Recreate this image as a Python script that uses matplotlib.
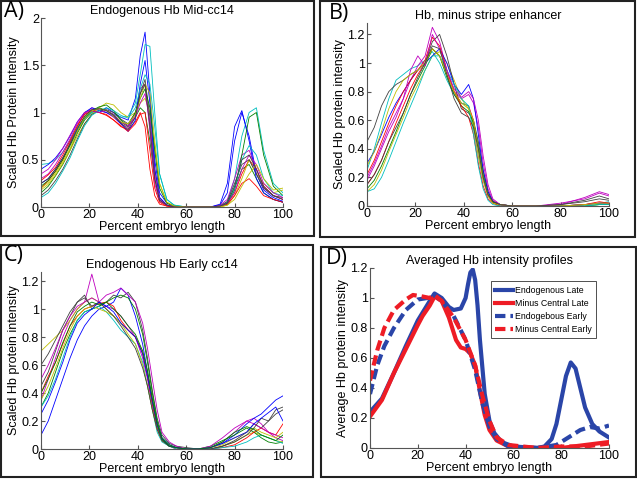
import numpy as np
import matplotlib
matplotlib.use('Agg')
import matplotlib.pyplot as plt
from matplotlib.patches import Rectangle
from matplotlib import font_manager

#fail loudly if the Arial-like font is missing
font_manager.findfont('Liberation Sans', fallback_to_default=False)
plt.rcParams['font.family'] = 'sans-serif'
plt.rcParams['font.sans-serif'] = ['Liberation Sans']

#MATLAB default line colours (cycled)
colors = [(0, 0, 1), (0, 0.5, 0), (1, 0, 0), (0, 0.75, 0.75),
          (0.75, 0, 0.75), (0.75, 0.75, 0), (0.25, 0.25, 0.25)]

#Panel A - endogenous Hb mid cc14
xa = [0, 3, 6, 9, 12, 15, 18, 21, 24, 27, 30, 33, 36, 39, 41, 43, 45, 47, 49, 52, 55, 60, 65, 70, 74, 77, 80, 83, 86, 89, 92, 96, 100]
a_lines = [
    [0.25, 0.30, 0.40, 0.52, 0.66, 0.82, 0.95, 1.02, 1.00, 1.05, 1.00, 0.95, 0.92, 1.15, 1.60, 1.85, 1.20, 0.50, 0.15, 0.04, 0.01, 0, 0, 0, 0.02, 0.15, 0.70, 1.00, 0.75, 0.35, 0.18, 0.10, 0.06],
    [0.15, 0.22, 0.33, 0.45, 0.60, 0.78, 0.92, 1.00, 1.05, 1.02, 0.98, 0.90, 0.85, 0.95, 1.05, 1.00, 0.70, 0.30, 0.08, 0.02, 0, 0, 0, 0, 0.01, 0.05, 0.20, 0.40, 0.45, 0.30, 0.15, 0.08, 0.05],
    [0.20, 0.28, 0.38, 0.50, 0.68, 0.85, 1.00, 1.03, 1.00, 0.98, 0.92, 0.85, 0.82, 0.90, 1.00, 0.85, 0.40, 0.12, 0.03, 0.01, 0, 0, 0, 0, 0.01, 0.04, 0.15, 0.35, 0.50, 0.40, 0.22, 0.12, 0.08],
    [0.45, 0.46, 0.50, 0.58, 0.70, 0.84, 0.95, 1.00, 1.02, 1.00, 0.98, 0.95, 0.96, 1.10, 1.40, 1.72, 1.70, 1.00, 0.35, 0.08, 0.02, 0, 0, 0, 0.01, 0.05, 0.30, 0.75, 1.00, 1.05, 0.60, 0.25, 0.15],
    [0.30, 0.35, 0.45, 0.58, 0.72, 0.88, 0.98, 1.05, 1.03, 1.00, 0.95, 0.88, 0.84, 0.98, 1.25, 1.30, 0.80, 0.25, 0.06, 0.02, 0, 0, 0, 0, 0.02, 0.08, 0.30, 0.55, 0.60, 0.40, 0.20, 0.12, 0.08],
    [0.18, 0.24, 0.34, 0.46, 0.60, 0.75, 0.88, 0.98, 1.05, 1.10, 1.08, 1.00, 0.95, 1.00, 1.10, 1.15, 1.00, 0.65, 0.25, 0.05, 0.01, 0, 0, 0, 0, 0.02, 0.12, 0.30, 0.50, 0.35, 0.25, 0.15, 0.18],
    [0.12, 0.18, 0.28, 0.40, 0.55, 0.72, 0.88, 0.98, 1.02, 1.03, 1.00, 0.93, 0.88, 1.00, 1.20, 1.35, 0.95, 0.40, 0.10, 0.02, 0, 0, 0, 0, 0.01, 0.06, 0.25, 0.45, 0.50, 0.35, 0.20, 0.12, 0.10],
    [0.40, 0.45, 0.52, 0.62, 0.75, 0.90, 1.00, 1.05, 1.02, 1.00, 0.96, 0.88, 0.80, 0.92, 1.30, 1.55, 1.10, 0.40, 0.10, 0.02, 0, 0, 0, 0, 0.03, 0.25, 0.85, 1.02, 0.70, 0.30, 0.15, 0.08, 0.05],
    [0.22, 0.28, 0.38, 0.50, 0.65, 0.80, 0.94, 1.02, 1.06, 1.08, 1.02, 0.92, 0.86, 1.00, 1.15, 1.25, 1.05, 0.60, 0.20, 0.04, 0.01, 0, 0, 0, 0.01, 0.03, 0.18, 0.55, 0.95, 1.00, 0.55, 0.22, 0.12],
    [0.28, 0.34, 0.42, 0.55, 0.70, 0.86, 0.98, 1.02, 1.00, 0.97, 0.92, 0.86, 0.80, 0.88, 0.98, 1.00, 0.60, 0.20, 0.05, 0.01, 0, 0, 0, 0, 0.01, 0.03, 0.12, 0.25, 0.30, 0.22, 0.12, 0.08, 0.05],
    [0.10, 0.15, 0.25, 0.38, 0.52, 0.70, 0.86, 0.97, 1.02, 1.05, 1.02, 0.97, 0.94, 1.05, 1.25, 1.40, 1.30, 0.85, 0.35, 0.08, 0.02, 0, 0, 0, 0.01, 0.04, 0.20, 0.50, 0.65, 0.55, 0.30, 0.15, 0.12],
    [0.35, 0.40, 0.50, 0.62, 0.76, 0.90, 1.00, 1.02, 1.00, 1.02, 0.98, 0.90, 0.86, 0.95, 1.10, 1.20, 0.90, 0.35, 0.08, 0.02, 0, 0, 0, 0, 0.01, 0.04, 0.15, 0.40, 0.55, 0.45, 0.25, 0.15, 0.10],
    [0.20, 0.26, 0.36, 0.48, 0.62, 0.80, 0.95, 1.02, 1.04, 1.02, 0.96, 0.90, 0.88, 0.98, 1.15, 1.30, 1.20, 0.70, 0.25, 0.05, 0.01, 0, 0, 0, 0, 0.02, 0.08, 0.22, 0.35, 0.45, 0.30, 0.18, 0.20],
    [0.25, 0.30, 0.40, 0.52, 0.67, 0.83, 0.96, 1.03, 1.04, 1.02, 0.97, 0.89, 0.82, 0.95, 1.20, 1.30, 0.85, 0.30, 0.07, 0.02, 0, 0, 0, 0, 0.01, 0.04, 0.22, 0.50, 0.55, 0.40, 0.22, 0.12, 0.08],
]

#Panel B - minus stripe enhancer
xb = [0, 3, 6, 9, 12, 15, 18, 21, 24, 27, 30, 33, 36, 39, 42, 44, 46, 48, 50, 52, 55, 60, 70, 80, 90, 96, 100]
b_lines = [
    [0.15, 0.22, 0.32, 0.45, 0.58, 0.70, 0.82, 0.92, 1.00, 1.10, 1.05, 0.92, 0.80, 0.72, 0.70, 0.60, 0.40, 0.20, 0.08, 0.03, 0.01, 0, 0, 0, 0.01, 0.02, 0.02],
    [0.25, 0.40, 0.58, 0.75, 0.88, 0.92, 0.96, 0.98, 1.02, 1.08, 1.00, 0.88, 0.78, 0.72, 0.70, 0.55, 0.35, 0.18, 0.07, 0.03, 0.01, 0, 0, 0, 0.01, 0.02, 0.03],
    [0.20, 0.30, 0.42, 0.55, 0.65, 0.75, 0.88, 0.98, 1.05, 1.25, 1.15, 0.95, 0.80, 0.75, 0.78, 0.72, 0.55, 0.30, 0.12, 0.04, 0.01, 0, 0, 0.02, 0.05, 0.09, 0.07],
    [0.10, 0.15, 0.25, 0.38, 0.50, 0.62, 0.75, 0.85, 0.95, 1.05, 1.08, 1.00, 0.88, 0.75, 0.68, 0.55, 0.35, 0.18, 0.07, 0.02, 0, 0, 0, 0, 0, 0.01, 0.01],
    [0.45, 0.55, 0.70, 0.80, 0.85, 0.88, 0.92, 0.95, 1.00, 1.15, 1.20, 1.05, 0.85, 0.68, 0.65, 0.60, 0.45, 0.25, 0.10, 0.03, 0.01, 0, 0, 0.01, 0.03, 0.05, 0.04],
    [0.30, 0.38, 0.50, 0.62, 0.72, 0.80, 0.88, 0.95, 1.00, 1.05, 1.10, 1.00, 0.85, 0.78, 0.85, 0.75, 0.50, 0.25, 0.10, 0.03, 0.01, 0, 0, 0, 0.01, 0.02, 0.02],
    [0.12, 0.18, 0.28, 0.40, 0.52, 0.65, 0.78, 0.88, 0.98, 1.10, 1.05, 0.90, 0.78, 0.70, 0.66, 0.58, 0.42, 0.22, 0.08, 0.03, 0.01, 0, 0, 0, 0, 0.01, 0.01],
    [0.22, 0.32, 0.45, 0.58, 0.70, 0.80, 0.88, 0.95, 1.02, 1.18, 1.12, 0.95, 0.80, 0.70, 0.62, 0.50, 0.30, 0.14, 0.05, 0.02, 0, 0, 0, 0, 0.01, 0.03, 0.02],
    [0.10, 0.12, 0.20, 0.32, 0.45, 0.58, 0.70, 0.82, 0.95, 1.05, 1.05, 0.95, 0.85, 0.75, 0.70, 0.50, 0.28, 0.12, 0.04, 0.01, 0, 0, 0, 0, 0, 0.01, 0.01],
    [0.18, 0.28, 0.40, 0.52, 0.62, 0.75, 0.95, 1.05, 0.98, 1.20, 1.10, 0.95, 0.82, 0.76, 0.80, 0.75, 0.60, 0.35, 0.15, 0.05, 0.01, 0, 0, 0.01, 0.06, 0.10, 0.08],
    [0.28, 0.38, 0.52, 0.68, 0.80, 0.88, 0.92, 0.95, 1.00, 1.10, 1.05, 0.92, 0.80, 0.72, 0.68, 0.60, 0.40, 0.20, 0.08, 0.02, 0.01, 0, 0, 0, 0.01, 0.02, 0.02],
    [0.15, 0.22, 0.32, 0.45, 0.55, 0.65, 0.78, 0.90, 1.00, 1.12, 1.10, 0.92, 0.75, 0.65, 0.62, 0.55, 0.40, 0.20, 0.08, 0.03, 0.01, 0, 0, 0.01, 0.04, 0.07, 0.05],
]

#Panel C - endogenous Hb early cc14
xc = [0, 3, 6, 9, 12, 15, 18, 21, 24, 27, 30, 33, 36, 39, 42, 44, 46, 48, 50, 53, 56, 60, 65, 70, 75, 80, 85, 88, 91, 94, 97, 100]
c_lines = [
    [0.35, 0.50, 0.65, 0.80, 0.92, 1.00, 1.05, 1.25, 1.05, 1.02, 1.00, 0.95, 0.88, 0.80, 0.65, 0.50, 0.30, 0.15, 0.06, 0.02, 0.01, 0, 0, 0.01, 0.05, 0.12, 0.20, 0.22, 0.18, 0.12, 0.08, 0.06],
    [0.70, 0.75, 0.80, 0.85, 0.92, 1.00, 1.05, 1.08, 1.05, 1.00, 0.95, 0.90, 0.85, 0.80, 0.70, 0.55, 0.35, 0.18, 0.07, 0.02, 0.01, 0, 0, 0, 0.02, 0.05, 0.10, 0.12, 0.10, 0.08, 0.06, 0.05],
    [0.45, 0.55, 0.70, 0.85, 0.95, 1.05, 1.10, 1.00, 1.02, 1.05, 1.10, 1.08, 1.12, 1.05, 0.85, 0.65, 0.42, 0.22, 0.10, 0.04, 0.02, 0.01, 0, 0, 0.02, 0.06, 0.12, 0.18, 0.15, 0.20, 0.28, 0.30],
    [0.10, 0.20, 0.35, 0.50, 0.65, 0.78, 0.88, 0.95, 1.00, 1.02, 1.05, 1.15, 1.10, 0.95, 0.75, 0.55, 0.35, 0.18, 0.08, 0.03, 0.01, 0, 0, 0.01, 0.04, 0.10, 0.18, 0.22, 0.25, 0.30, 0.35, 0.38],
    [0.30, 0.40, 0.55, 0.70, 0.82, 0.92, 0.98, 1.00, 1.02, 1.05, 1.08, 1.10, 1.08, 1.00, 0.82, 0.62, 0.40, 0.20, 0.08, 0.03, 0.01, 0, 0, 0.02, 0.06, 0.10, 0.15, 0.12, 0.08, 0.05, 0.04, 0.05],
    [0.40, 0.52, 0.62, 0.75, 0.88, 0.95, 1.00, 1.02, 1.04, 1.05, 1.02, 0.92, 0.85, 0.80, 0.68, 0.52, 0.32, 0.15, 0.06, 0.02, 0, 0, 0, 0, 0.01, 0.03, 0.08, 0.12, 0.15, 0.12, 0.10, 0.18],
    [0.30, 0.38, 0.50, 0.65, 0.80, 0.92, 0.98, 1.00, 1.02, 0.98, 0.92, 0.85, 0.80, 0.75, 0.62, 0.45, 0.28, 0.12, 0.05, 0.02, 0, 0, 0, 0, 0.01, 0.02, 0.05, 0.08, 0.10, 0.08, 0.06, 0.04],
    [0.50, 0.60, 0.72, 0.85, 0.95, 1.02, 1.05, 1.08, 1.05, 1.10, 1.12, 1.15, 1.10, 1.05, 0.90, 0.72, 0.50, 0.28, 0.12, 0.05, 0.02, 0, 0, 0.02, 0.08, 0.15, 0.20, 0.18, 0.15, 0.12, 0.10, 0.08],
    [0.35, 0.45, 0.58, 0.72, 0.85, 0.95, 1.00, 1.02, 1.00, 0.98, 0.95, 0.90, 0.82, 0.75, 0.60, 0.45, 0.28, 0.14, 0.06, 0.02, 0.01, 0, 0, 0.01, 0.03, 0.08, 0.12, 0.15, 0.12, 0.10, 0.08, 0.12],
    [0.60, 0.68, 0.78, 0.88, 0.98, 1.05, 1.08, 1.02, 1.05, 1.00, 0.95, 0.88, 0.80, 0.72, 0.58, 0.45, 0.28, 0.14, 0.06, 0.02, 0.01, 0, 0, 0, 0.02, 0.05, 0.10, 0.15, 0.22, 0.20, 0.25, 0.28],
    [0.25, 0.35, 0.48, 0.62, 0.78, 0.90, 0.96, 1.00, 1.05, 1.02, 0.98, 0.90, 0.85, 0.80, 0.68, 0.52, 0.34, 0.17, 0.07, 0.02, 0.01, 0, 0, 0.01, 0.04, 0.08, 0.12, 0.18, 0.22, 0.26, 0.30, 0.20],
    [0.40, 0.50, 0.62, 0.76, 0.88, 0.98, 1.02, 1.05, 1.03, 1.05, 1.00, 0.95, 0.88, 0.82, 0.70, 0.56, 0.36, 0.18, 0.07, 0.02, 0.01, 0, 0, 0.01, 0.05, 0.12, 0.16, 0.14, 0.10, 0.08, 0.06, 0.10],
]

#Panel D - averaged profiles
x_endo_late = [0, 5, 10, 15, 20, 25, 27, 30, 33, 35, 38, 40, 41, 42, 43, 44, 45, 46, 48, 50, 52, 55, 60, 70, 73, 76, 78, 80, 82, 84, 86, 88, 90, 93, 96, 100]
y_endo_late = [0.24, 0.33, 0.50, 0.68, 0.85, 0.98, 1.03, 1.00, 0.94, 0.92, 0.93, 1.00, 1.09, 1.17, 1.19, 1.12, 0.95, 0.72, 0.36, 0.18, 0.10, 0.04, 0.01, 0.00, 0.01, 0.06, 0.16, 0.32, 0.48, 0.57, 0.53, 0.40, 0.27, 0.16, 0.11, 0.07]
x_minus_late = [0, 5, 10, 15, 20, 22, 25, 27, 30, 33, 36, 38, 40, 42, 44, 46, 48, 50, 53, 58, 70, 80, 90, 100]
y_minus_late = [0.21, 0.32, 0.50, 0.66, 0.82, 0.88, 0.95, 1.01, 0.98, 0.87, 0.72, 0.67, 0.66, 0.63, 0.55, 0.38, 0.22, 0.12, 0.05, 0.01, 0.00, 0.00, 0.02, 0.04]
x_endo_early = [0, 3, 6, 10, 15, 20, 24, 27, 30, 35, 40, 44, 47, 50, 53, 58, 70, 78, 83, 88, 92, 96, 100]
y_endo_early = [0.36, 0.55, 0.68, 0.80, 0.92, 0.99, 1.00, 1.02, 0.98, 0.88, 0.72, 0.52, 0.30, 0.14, 0.06, 0.01, 0.00, 0.02, 0.07, 0.12, 0.14, 0.13, 0.15]
x_minus_early = [0, 3, 6, 10, 15, 18, 22, 25, 27, 30, 35, 40, 44, 47, 50, 53, 58, 70, 80, 90, 100]
y_minus_early = [0.45, 0.65, 0.80, 0.92, 0.99, 1.02, 1.01, 1.00, 1.02, 0.98, 0.87, 0.72, 0.55, 0.35, 0.18, 0.07, 0.02, 0.00, 0.01, 0.01, 0.03]

fs = 9

def style_axes(ax, ymax, yticks, title, ylabel):
    ax.set_xlim(0, 100)
    ax.set_ylim(0, ymax)
    ax.set_xticks([0, 20, 40, 60, 80, 100])
    ax.set_yticks(yticks)
    ax.set_yticklabels(['%g' % t for t in yticks])
    ax.spines['top'].set_visible(False)
    ax.spines['right'].set_visible(False)
    for s in ['left', 'bottom']:
        ax.spines[s].set_color('#555555')
        ax.spines[s].set_linewidth(0.8)
    ax.tick_params(direction='in', length=3, labelsize=fs, pad=1.5, color='#555555')
    ax.set_title(title, fontsize=fs, pad=3)
    ax.set_xlabel('Percent embryo length', fontsize=fs, labelpad=0)
    ax.set_ylabel(ylabel, fontsize=fs, labelpad=1)


fig = plt.figure(figsize=(6.37, 4.83), dpi=100)
W, H = 637.0, 483.0

def axes_px(left, right, bottom, top):
    return fig.add_axes([left / W, 1 - bottom / H, (right - left) / W, (bottom - top) / H])

axA = axes_px(41, 283, 207, 18)
axB = axes_px(367, 609, 206, 23)
axC = axes_px(41, 283, 449, 272)
axD = axes_px(370, 609, 448, 268)

for i, y in enumerate(a_lines):
    axA.plot(xa, y, color=colors[i % 7], lw=0.6)
for i, y in enumerate(b_lines):
    axB.plot(xb, y, color=colors[(i + 2) % 7], lw=0.6)
for i, y in enumerate(c_lines):
    axC.plot(xc, y, color=colors[(i + 4) % 7], lw=0.6)

blue = '#2a45a8'
red = '#ee1c25'
axD.plot(x_endo_late, y_endo_late, color=blue, lw=3, label='Endogenous Late')
axD.plot(x_minus_late, y_minus_late, color=red, lw=3, label='Minus Central Late')
axD.plot(x_endo_early, y_endo_early, color=blue, lw=3, ls=(0, (2.5, 1.2)), label='Endogebous Early')
axD.plot(x_minus_early, y_minus_early, color=red, lw=3, ls=(0, (2.5, 1.2)), label='Minus Central Early')

style_axes(axA, 2.0, [0, 0.5, 1, 1.5, 2], 'Endogenous Hb Mid-cc14', 'Scaled Hb Protein Intensity')
style_axes(axB, 1.28, [0, 0.2, 0.4, 0.6, 0.8, 1, 1.2], 'Hb, minus stripe enhancer', 'Scaled Hb protein intensity')
style_axes(axC, 1.265, [0, 0.2, 0.4, 0.6, 0.8, 1, 1.2], 'Endogenous Hb Early cc14', 'Scaled Hb protein intensity')
style_axes(axD, 1.2, [0, 0.2, 0.4, 0.6, 0.8, 1, 1.2], 'Averaged Hb intensity profiles', 'Average Hb protein intensity')

leg = axD.legend(loc='upper right', bbox_to_anchor=(0.965, 0.95), fontsize=6.3, frameon=True,
                 fancybox=False, edgecolor='black', handlelength=2.0, borderpad=0.5,
                 labelspacing=0.45, handletextpad=0.3)
leg.get_frame().set_linewidth(0.6)

#Panel frames and letters
frames = [(1, 1, 314, 236), (320, 1, 635, 237), (1, 245, 313, 477), (321, 247, 636, 477)]
for x0, y0, x1, y1 in frames:
    fig.add_artist(Rectangle((x0 / W, 1 - y1 / H), (x1 - x0) / W, (y1 - y0) / H,
                             transform=fig.transFigure, fill=False, lw=1.5, ec='#222222'))
letters = [('A)', 4, 1), ('B)', 329, 3), ('C)', 4, 245), ('D)', 326, 248)]
for txt, x, y in letters:
    fig.text(x / W, 1 - y / H, txt, fontsize=15.5, family='Open Sans', va='top', ha='left')

fig.savefig('out.png', dpi=100)
